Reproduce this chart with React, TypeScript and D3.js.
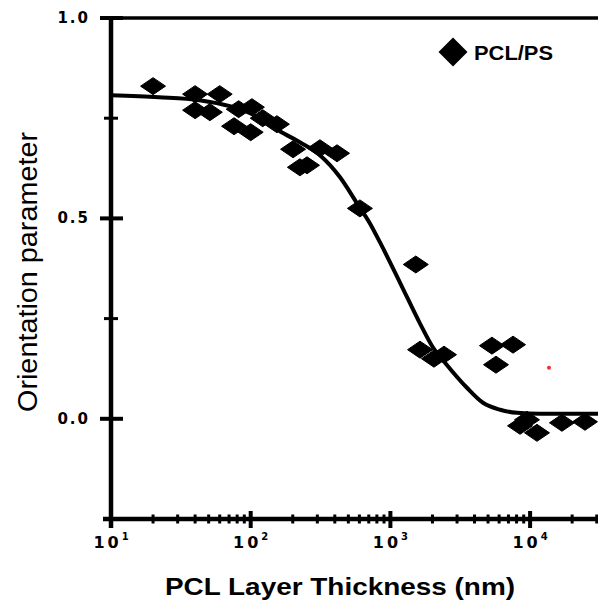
import React from "react";
import * as d3 from "d3";

// Measured data (PCL/PS)
const thickness = [20, 40, 60, 40, 51, 82, 102, 122, 76, 100, 154, 201, 225, 253, 313, 415, 605, 1520, 1630, 2050, 2420, 5330, 7550, 5700, 8470, 9500, 11200, 16900, 24700];
const orientation = [0.83, 0.81, 0.81, 0.77, 0.765, 0.7725, 0.7775, 0.75, 0.73, 0.715, 0.735, 0.6725, 0.6275, 0.6325, 0.675, 0.6625, 0.525, 0.385, 0.1725, 0.15, 0.16, 0.1825, 0.185, 0.135, -0.0175, -0.0025, -0.035, -0.01, -0.0075];

// Fitted curve
const fitX = [10, 22, 43, 71, 99, 127, 162, 225, 313, 436, 577, 714, 843, 1171, 1630, 2020, 2460, 3530, 4600, 6100, 8060, 11800, 30600, 100000];
const fitY = [0.8075, 0.8025, 0.795, 0.78, 0.7625, 0.7425, 0.7175, 0.69, 0.6575, 0.6025, 0.5375, 0.4875, 0.44, 0.34, 0.2375, 0.1775, 0.14, 0.0775, 0.04, 0.0225, 0.015, 0.0125, 0.0125, 0.0125];

// stray red mark in the original
const strayX = [13650];
const strayY = [0.1275];

const yMajor = [0, 0.5, 1.0];
const yMinor = [-0.25, 0.25, 0.75];
const yLabels = ["0.0", "0.5", "1.0"];
const xDecades = [10, 100, 1000, 10000];
const xExponents = ["1", "2", "3", "4"];

const W = 598;
const H = 603;

export default function App() {
  const x = d3.scaleLog().domain([10, 1e5]).range([111, 111 + 4 * 139.7]);
  const y = d3.scaleLinear().domain([-0.25, 1.0]).range([519, 18]);
  const x0 = x(10);
  const yBottom = y(-0.25);
  const yTop = y(1.0);

  const minorX = x.ticks().filter((t) => {
    const l = Math.log10(t);
    return Math.abs(l - Math.round(l)) > 1e-6 && t < 4e4;
  });

  const line = d3
    .line<number>()
    .x((_, i) => x(fitX[i]))
    .y((d) => y(d))
    .curve(d3.curveMonotoneX);

  const diamond = "M0,-8.5 L12.5,0 L0,8.5 L-12.5,0 Z";
  const legendDiamond = "M0,-14.5 L14.5,0 L0,14.5 L-14.5,0 Z";

  const tickFont = "'DejaVu Sans', Verdana, sans-serif";
  const titleFont = "'Liberation Sans', Arial, sans-serif";

  return (
    <svg
      width={W}
      height={H}
      style={{ position: "absolute", left: 0, top: 0, background: "#fff" }}
    >
      <rect x={0} y={0} width={W} height={H} fill="#fff" />
      {/* fit curve */}
      <path d={line(fitY) || ""} fill="none" stroke="#000" strokeWidth={4} strokeLinejoin="round" />
      {/* data points */}
      {thickness.map((t, i) => (
        <path
          key={i}
          d={diamond}
          transform={`translate(${x(t)},${y(orientation[i])})`}
          fill="#000"
          stroke="#000"
          strokeWidth={1}
          strokeLinejoin="round"
        />
      ))}
      {strayX.map((s, i) => (
        <circle key={i} cx={x(s)} cy={y(strayY[i])} r={2} fill="#ff2a2a" />
      ))}

      {/* top frame line */}
      <line x1={100} x2={W + 10} y1={yTop} y2={yTop} stroke="#000" strokeWidth={3.5} />
      {/* left axis */}
      <line x1={x0} x2={x0} y1={yTop} y2={yBottom + 9} stroke="#000" strokeWidth={4.5} />
      {/* bottom axis */}
      <line x1={103} x2={W + 10} y1={yBottom} y2={yBottom} stroke="#000" strokeWidth={4.5} />

      {/* y ticks */}
      {yMajor.map((v) => (
        <line key={"ym" + v} x1={x0 - 11} x2={x0 + 12} y1={y(v)} y2={y(v)} stroke="#000" strokeWidth={4} />
      ))}
      {yMinor.map((v) => (
        <line key={"yn" + v} x1={x0 - 7} x2={x0 + 7} y1={y(v)} y2={y(v)} stroke="#000" strokeWidth={3} />
      ))}
      {yMajor.map((v, i) => (
        <text
          key={"yl" + v}
          x={90}
          y={y(v)}
          textAnchor="end"
          dominantBaseline="central"
          fontFamily={tickFont}
          fontWeight="bold"
          fontSize={15}
          letterSpacing={2}
          fill="#000"
        >
          {yLabels[i]}
        </text>
      ))}

      {/* x ticks */}
      {xDecades.map((d) => (
        <line key={"xm" + d} x1={x(d)} x2={x(d)} y1={yBottom - 8} y2={yBottom + 9} stroke="#000" strokeWidth={4} />
      ))}
      {minorX.map((d) => (
        <line key={"xn" + d} x1={x(d)} x2={x(d)} y1={yBottom - 4.5} y2={yBottom + 4.5} stroke="#000" strokeWidth={3} />
      ))}
      {xDecades.map((d, i) => (
        <text
          key={"xl" + d}
          x={x(d)}
          y={548}
          textAnchor="middle"
          fontFamily={tickFont}
          fontWeight="bold"
          fontSize={16}
          fill="#000"
        >
          <tspan letterSpacing={3}>10</tspan>
          <tspan fontSize={10} dy={-8}>
            {xExponents[i]}
          </tspan>
        </text>
      ))}

      {/* axis titles */}
      <text
        x={340}
        y={595}
        textAnchor="middle"
        fontFamily={titleFont}
        fontWeight="bold"
        fontSize={24}
        textLength={350}
        lengthAdjust="spacingAndGlyphs"
        fill="#000"
      >
        PCL Layer Thickness (nm)
      </text>
      <text
        transform={`translate(37,${272}) rotate(-90)`}
        textAnchor="middle"
        fontFamily={titleFont}
        fontSize={27}
        textLength={280}
        lengthAdjust="spacingAndGlyphs"
        fill="#000"
      >
        Orientation parameter
      </text>

      {/* legend */}
      <path d={legendDiamond} transform="translate(453,52)" fill="#000" />
      <text
        x={474}
        y={60}
        fontFamily={titleFont}
        fontWeight="bold"
        fontSize={20}
        textLength={79}
        lengthAdjust="spacingAndGlyphs"
        fill="#000"
      >
        PCL/PS
      </text>
    </svg>
  );
}
